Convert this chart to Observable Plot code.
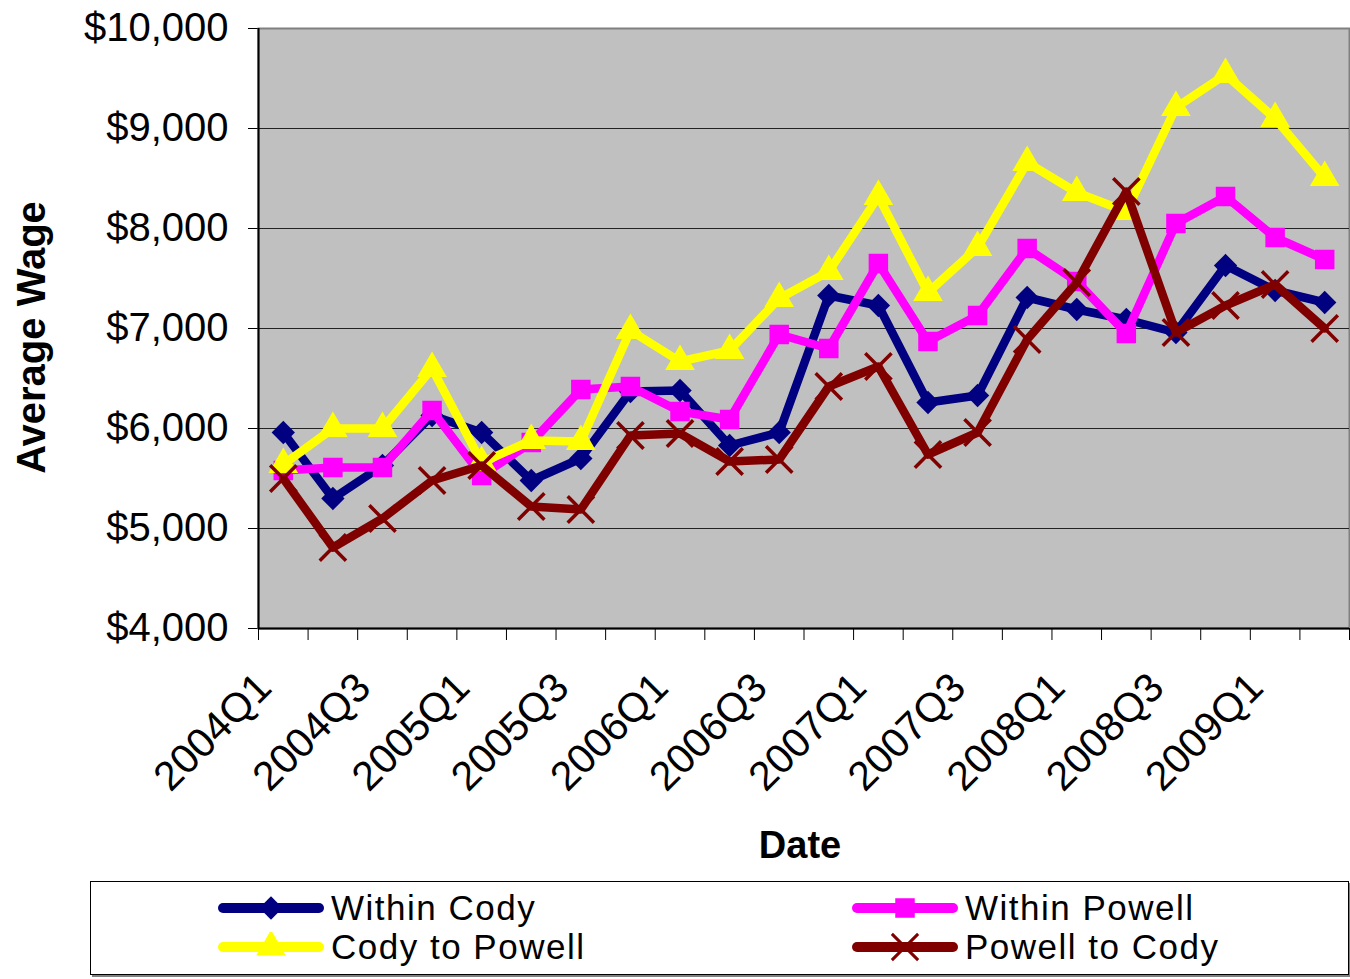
<!DOCTYPE html>
<html>
<head>
<meta charset="utf-8">
<script src="https://cdn.jsdelivr.net/npm/d3@7"></script>
<script src="https://cdn.jsdelivr.net/npm/@observablehq/plot@0.6"></script>
<style>
  html, body { margin: 0; padding: 0; background: #fff; }
  body { width: 1350px; height: 979px; position: relative; overflow: hidden; font-family: "Liberation Sans", Arial, sans-serif; }
  #chart svg { display: block; overflow: visible; }
  #legend { position: absolute; left: 90px; top: 881px; width: 1257px; height: 92px; border: 1px solid #000; box-shadow: 2px 2px 0 #808080; background: #fff; }
  .item { position: absolute; display: flex; align-items: center; height: 39px; font-size: 35px; letter-spacing: 1.5px; line-height: 39px; color: #000; white-space: nowrap; }
  .item svg { margin-right: 7px; }
</style>
</head>
<body>
<div id="chart"></div>
<div id="legend"></div>
<script>
const quarters = ["2004Q1","2004Q2","2004Q3","2004Q4","2005Q1","2005Q2","2005Q3","2005Q4","2006Q1","2006Q2","2006Q3","2006Q4","2007Q1","2007Q2","2007Q3","2007Q4","2008Q1","2008Q2","2008Q3","2008Q4","2009Q1","2009Q2"];
const tickLabels = ["2004Q1","2004Q3","2005Q1","2005Q3","2006Q1","2006Q3","2007Q1","2007Q3","2008Q1","2008Q3","2009Q1"];
const withinCody   = [5960,5300,5630,6130,5960,5480,5700,6370,6380,5830,5960,7330,7230,6260,6330,7310,7190,7090,6960,7630,7380,7260];
const withinPowell = [5580,5610,5610,6180,5530,5860,6390,6420,6170,6090,6940,6800,7650,6870,7130,7800,7470,6950,8050,8320,7910,7690];
const codyToPowell = [5640,6000,6000,6600,5660,5880,5870,6980,6670,6780,7300,7570,8320,7360,7810,8660,8360,8170,9210,9540,9100,8510];
const powellToCody = [5500,4810,5100,5480,5630,5220,5190,5930,5950,5670,5690,6420,6620,5740,5960,6890,7460,8370,6960,7230,7440,7000];
const seriesNames  = ["Within Cody","Within Powell","Cody to Powell","Powell to Cody"];
const yTicks = [4000,5000,6000,7000,8000,9000,10000];
const gridValues = [5000,6000,7000,8000,9000];

const seriesStyle = [
  {color: "#000080", symbol: "diamond2", r: 10.5, filled: true},
  {color: "#FF00FF", symbol: "square", r: 11, filled: true},
  {color: "#FFFF00", symbol: "triangle", r: 11, filled: true},
  {color: "#800000", symbol: "times", r: 12, filled: false}
];
const seriesValues = [withinCody, withinPowell, codyToPowell, powellToCody];

const rows = seriesNames.map((name, s) => quarters.map((q, i) => ({series: name, quarter: q, value: seriesValues[s][i]})));

const W = 1350, H = 880, mL = 258, mR = 1, mT = 28, mB = 252;
const bw = (W - mL - mR) / quarters.length;

const marks = [
  Plot.frame({fill: "#C0C0C0", stroke: "#808080", strokeWidth: 2}),
  Plot.ruleY(gridValues, {stroke: "#222", strokeWidth: 1}),
  Plot.ruleX(quarters, {x: d => d, y1: 4000, y2: 3880, dx: -bw / 2, stroke: "#000", strokeWidth: 1}),
  Plot.ruleX([quarters[quarters.length - 1]], {x: d => d, y1: 4000, y2: 3880, dx: bw / 2, stroke: "#000", strokeWidth: 1}),
  Plot.ruleY([4000], {stroke: "#000", strokeWidth: 2}),
  Plot.ruleX([quarters[0]], {x: d => d, dx: -bw / 2, stroke: "#000", strokeWidth: 2})
];
rows.forEach((data, s) => {
  const st = seriesStyle[s];
  marks.push(Plot.line(data, {x: "quarter", y: "value", stroke: st.color, strokeWidth: 8.5, strokeLinejoin: "round", strokeLinecap: "round"}));
  marks.push(Plot.dot(data, st.filled
    ? {x: "quarter", y: "value", symbol: () => st.symbol, r: st.r, fill: st.color, stroke: "none"}
    : {x: "quarter", y: "value", symbol: () => st.symbol, r: st.r, fill: "none", stroke: st.color, strokeWidth: 3.5}));
});
marks.push(Plot.text(tickLabels, {x: d => d, frameAnchor: "bottom", rotate: -45, textAnchor: "end", lineAnchor: "middle", dx: -19, dy: 52, fontSize: 41, fill: "#000"}));
marks.push(Plot.text(["Average Wage"], {frameAnchor: "left", textAnchor: "middle", lineAnchor: "middle", dx: -226, dy: 9, rotate: -90, fontWeight: "bold", fontSize: 40, fill: "#000"}));
marks.push(Plot.text(["Date"], {frameAnchor: "bottom", textAnchor: "middle", lineAnchor: "middle", dx: -4, dy: 217, fontWeight: "bold", fontSize: 38, fill: "#000"}));

const chart = Plot.plot({
  width: W, height: H,
  marginLeft: mL, marginRight: mR, marginTop: mT, marginBottom: mB,
  style: {fontFamily: "'Liberation Sans', Arial, sans-serif", fontSize: "40px", background: "transparent", color: "#000", overflow: "visible"},
  x: {type: "point", domain: quarters, padding: 0.5, round: false, axis: null},
  y: {domain: [4000, 10000], ticks: yTicks, label: null, tickSize: 10, tickPadding: 20,
      tickFormat: d => "$" + d3.format(",")(d)},
  symbol: {type: "identity"},
  marks
});
document.getElementById("chart").appendChild(chart);

// legend
const legend = document.getElementById("legend");
const pos = [[127, 6], [761, 6], [127, 45], [761, 45]];
seriesNames.forEach((name, s) => {
  const st = seriesStyle[s];
  const item = document.createElement("div");
  item.className = "item";
  item.style.left = pos[s][0] + "px";
  item.style.top = pos[s][1] + "px";
  const svg = d3.create("svg").attr("width", 106).attr("height", 30);
  svg.append("line").attr("x1", 5).attr("x2", 101).attr("y1", 15).attr("y2", 15)
    .attr("stroke", st.color).attr("stroke-width", 10).attr("stroke-linecap", "round");
  const symMap = {diamond2: d3.symbolDiamond2, square: d3.symbolSquare, triangle: d3.symbolTriangle, times: d3.symbolTimes};
  const p = svg.append("path").attr("transform", "translate(53,15)")
    .attr("d", d3.symbol(symMap[st.symbol], Math.PI * st.r * st.r)());
  if (st.filled) p.attr("fill", st.color); else p.attr("fill", "none").attr("stroke", st.color).attr("stroke-width", 3);
  item.appendChild(svg.node());
  const t = document.createElement("span");
  t.textContent = name;
  item.appendChild(t);
  legend.appendChild(item);
});
</script>
</body>
</html>
